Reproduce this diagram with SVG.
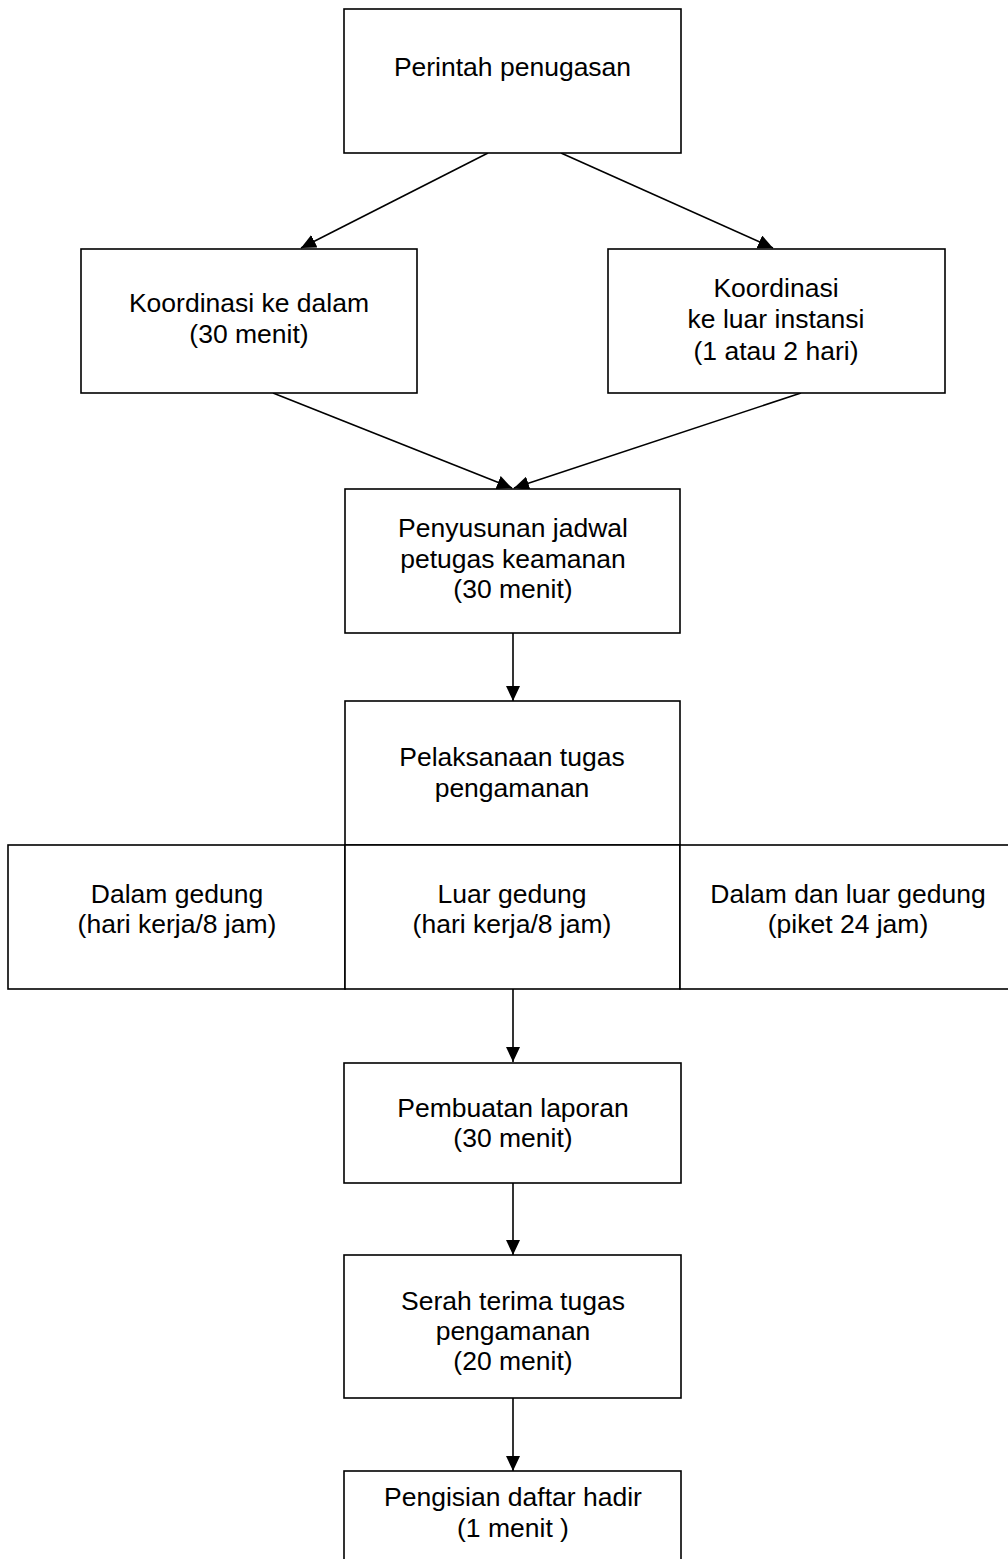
<svg xmlns="http://www.w3.org/2000/svg" width="1008" height="1559" viewBox="0 0 1008 1559">
<style>
.box{fill:#fff;stroke:#000;stroke-width:1.6}
.t{font-family:"Liberation Sans",Arial,sans-serif;font-size:26.5px;fill:#000;text-anchor:middle}
.c{stroke:#000;stroke-width:1.6;fill:none;marker-end:url(#ah)}
</style>
<defs>
<marker id="ah" viewBox="0 0 15 14" refX="15" refY="7" markerWidth="15" markerHeight="14" markerUnits="userSpaceOnUse" orient="auto">
<path d="M0,0 L15,7 L0,14 z" fill="#000"/>
</marker>
</defs>
<rect width="1008" height="1559" fill="#fff"/>
<g id="connectors">
<line class="c" x1="488" y1="153" x2="301" y2="248"/>
<line class="c" x1="561" y1="153" x2="773" y2="248"/>
<line class="c" x1="273" y1="393" x2="512" y2="488"/>
<line class="c" x1="801" y1="393" x2="514" y2="488"/>
<line class="c" x1="513" y1="633" x2="513" y2="701"/>
<line class="c" x1="513" y1="989" x2="513" y2="1062"/>
<line class="c" x1="513" y1="1183" x2="513" y2="1255"/>
<line class="c" x1="513" y1="1398" x2="513" y2="1471"/>
</g>
<g id="n1"><rect class="box" x="344" y="9" width="337" height="144"/><text class="t" x="512.5" y="76">Perintah penugasan</text></g>
<g id="n2"><rect class="box" x="81" y="249" width="336" height="144"/><text class="t" x="249" y="312">Koordinasi ke dalam</text><text class="t" x="249" y="343">(30 menit)</text></g>
<g id="n3"><rect class="box" x="608" y="249" width="337" height="144"/><text class="t" x="776" y="297">Koordinasi</text><text class="t" x="776" y="328">ke luar instansi</text><text class="t" x="776" y="360">(1 atau 2 hari)</text></g>
<g id="n4"><rect class="box" x="345" y="489" width="335" height="144"/><text class="t" x="513" y="537">Penyusunan jadwal</text><text class="t" x="513" y="568">petugas keamanan</text><text class="t" x="513" y="598">(30 menit)</text></g>
<g id="n5"><rect class="box" x="345" y="701" width="335" height="144"/><text class="t" x="512" y="766">Pelaksanaan tugas</text><text class="t" x="512" y="797">pengamanan</text></g>
<g id="n6"><rect class="box" x="8" y="845" width="337" height="144"/><text class="t" x="177" y="903">Dalam gedung</text><text class="t" x="177" y="933">(hari kerja/8 jam)</text></g>
<g id="n7"><rect class="box" x="345" y="845" width="335" height="144"/><text class="t" x="512" y="903">Luar gedung</text><text class="t" x="512" y="933">(hari kerja/8 jam)</text></g>
<g id="n8"><rect class="box" x="680" y="845" width="340" height="144"/><text class="t" x="848" y="903">Dalam dan luar gedung</text><text class="t" x="848" y="933">(piket 24 jam)</text></g>
<g id="n9"><rect class="box" x="344" y="1063" width="337" height="120"/><text class="t" x="513" y="1117">Pembuatan laporan</text><text class="t" x="513" y="1147">(30 menit)</text></g>
<g id="n10"><rect class="box" x="344" y="1255" width="337" height="143"/><text class="t" x="513" y="1310">Serah terima tugas</text><text class="t" x="513" y="1340">pengamanan</text><text class="t" x="513" y="1370">(20 menit)</text></g>
<g id="n11"><rect class="box" x="344" y="1471" width="337" height="110"/><text class="t" x="513" y="1506">Pengisian daftar hadir</text><text class="t" x="513" y="1537">(1 menit )</text></g>
</svg>
